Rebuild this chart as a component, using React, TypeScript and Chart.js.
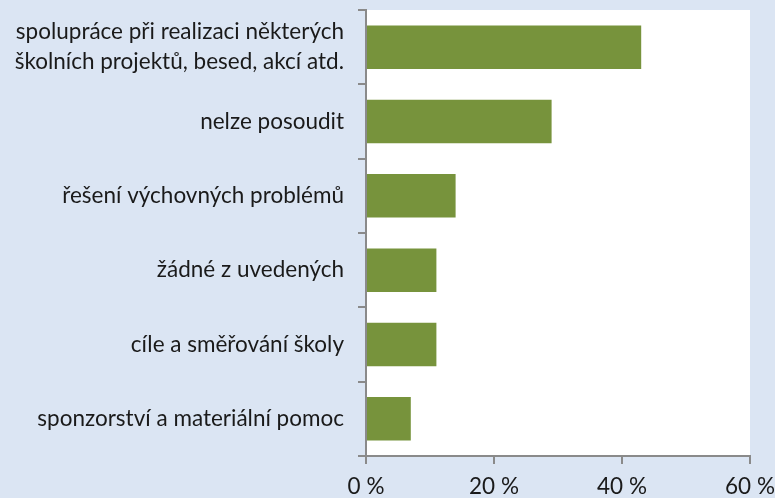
import React, { useEffect, useRef } from "react";
import { Chart, registerables } from "chart.js";

Chart.register(...registerables);

const categories: (string | string[])[] = [
  ["spolupráce při realizaci některých", "školních projektů, besed, akcí atd."],
  "nelze posoudit",
  "řešení výchovných problémů",
  "žádné z uvedených",
  "cíle a směřování školy",
  "sponzorství a materiální pomoc",
];
const values = [43, 29, 14, 11, 11, 7];
const xTicks = [0, 20, 40, 60];

const BG = "#dbe5f3";
const FONT = "Lato, 'Open Sans', sans-serif";

const plotBg = {
  id: "plotBg",
  beforeDraw(chart: any) {
    const { ctx, chartArea } = chart;
    ctx.save();
    ctx.fillStyle = "#ffffff";
    ctx.fillRect(chartArea.left, chartArea.top, chartArea.right - chartArea.left, chartArea.bottom - chartArea.top);
    ctx.restore();
  },
};

export default function App() {
  const ref = useRef<HTMLCanvasElement | null>(null);
  useEffect(() => {
    document.body.style.margin = "0";
    document.body.style.background = BG;
    const chart = new Chart(ref.current!, {
      type: "bar",
      data: {
        labels: categories,
        datasets: [
          {
            data: values,
            backgroundColor: "#77933c",
            borderWidth: 0,
            categoryPercentage: 1,
            barPercentage: 0.585,
          },
        ],
      },
      options: {
        indexAxis: "y",
        animation: false,
        responsive: false,
        maintainAspectRatio: false,
        layout: { padding: { top: 10, right: 25, left: 0, bottom: 0 } },
        plugins: { legend: { display: false }, tooltip: { enabled: false } },
        scales: {
          x: {
            min: 0,
            max: 60,
            afterBuildTicks(scale: any) {
              scale.ticks = xTicks.map((v) => ({ value: v }));
            },
            afterFit(scale: any) {
              scale.height = 42;
              scale.paddingLeft = 0;
              scale.paddingRight = 0;
              scale.paddingTop = 0;
              scale.paddingBottom = 0;
            },
            border: { display: true, color: "#8a8a8a", width: 2 },
            grid: { drawOnChartArea: false, drawTicks: true, tickLength: 8, color: "#8a8a8a", lineWidth: 2 },
            ticks: {
              padding: 9,
              color: "#1a1a1a",
              font: { family: FONT, size: 22.5, lineHeight: 1.2 },
              maxRotation: 0,
              callback: (v: any) => `${v} %`,
            },
          },
          y: {
            afterFit(scale: any) {
              scale.width = 366;
              scale.paddingLeft = 0;
              scale.paddingRight = 0;
              scale.paddingTop = 0;
              scale.paddingBottom = 0;
            },
            border: { display: true, color: "#8a8a8a", width: 2 },
            grid: { drawOnChartArea: false, drawTicks: true, tickLength: 8, color: "#8a8a8a", lineWidth: 2, offset: true },
            ticks: {
              padding: 14,
              color: "#1a1a1a",
              font: { family: FONT, size: 22.5, lineHeight: 1.33 },
            },
          },
        },
      },
      plugins: [plotBg],
    });
    return () => chart.destroy();
  }, []);
  return (
    <div style={{ width: 775, height: 498, background: BG }}>
      <canvas ref={ref} width={775} height={498} style={{ display: "block" }} />
    </div>
  );
}
